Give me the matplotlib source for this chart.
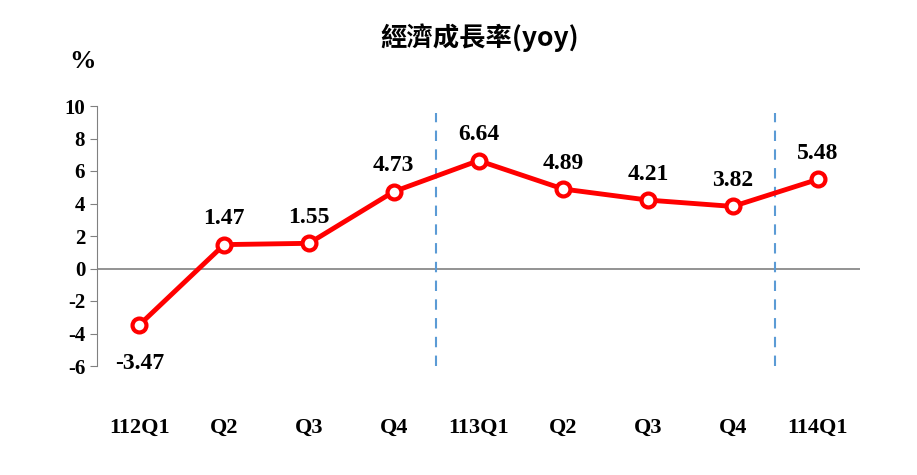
import matplotlib
matplotlib.use("Agg")
import matplotlib.pyplot as plt

categories = ["112Q1", "Q2", "Q3", "Q4", "113Q1", "Q2", "Q3", "Q4", "114Q1"]
values = [-3.47, 1.47, 1.55, 4.73, 6.64, 4.89, 4.21, 3.82, 5.48]
yticks = [10, 8, 6, 4, 2, 0, -2, -4, -6]
dividers = [3.5, 7.5]

serif = ["Liberation Serif", "DejaVu Serif"]
fig = plt.figure(figsize=(9.17, 4.75), dpi=100)
ax = fig.add_axes([97/917, 1-366/475, (860-97)/917, 260/475])
x = list(range(len(values)))
ax.plot(x, values, color="#ff0000", lw=3.5, marker="o", ms=10,
        mfc="white", mec="#ff0000", mew=3, zorder=3)
ax.set_xlim(-0.5, 8.5)
ax.set_ylim(-6, 10)
for s in ["top", "right", "bottom"]:
    ax.spines[s].set_visible(False)
ax.spines["left"].set_color("#808080")
ax.axhline(0, color="#808080", lw=1.2)
ax.set_xticks([])
ax.set_yticks(yticks)
ax.set_yticklabels([str(t) for t in yticks], fontsize=15, fontweight="bold", family=serif)
ax.tick_params(axis="y", length=5, color="#808080", direction="out")
for d in dividers:
    ax.plot([d, d], [-6, 9.6], ls=(0, (5, 4)), color="#5b9bd5", lw=1.5)
for i, v in enumerate(values):
    if v < 0:
        ax.annotate(f"{v:.2f}", (i, v), xytext=(0, -20), textcoords="offset points",
                    ha="center", va="top", fontsize=17, fontweight="bold", family=serif)
    else:
        ax.annotate(f"{v:.2f}", (i, v), xytext=(0, 11), textcoords="offset points",
                    ha="center", va="bottom", fontsize=17, fontweight="bold", family=serif)
for i, c in enumerate(categories):
    ax.text(i, -9.8, c, ha="center", va="center", fontsize=16, fontweight="bold",
            family=serif, clip_on=False)
fig.text(82/917, 1-62/475, "%", ha="center", va="center", fontsize=19,
         fontweight="bold", family=serif)
fig.text(480/917, 1-38/475, "經濟成長率(yoy)", ha="center", va="center", fontsize=19,
         fontweight="bold", family=["Noto Sans CJK TC", "DejaVu Sans"])
fig.savefig("out.png", dpi=100)
